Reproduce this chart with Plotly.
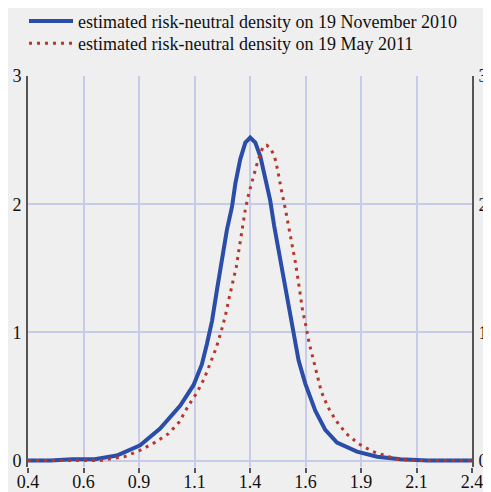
import plotly.graph_objects as go

# Data
nov_x = [0.40, 0.50, 0.60, 0.70, 0.80, 0.905, 0.995, 1.086, 1.146, 1.183, 1.206, 1.229, 1.251,
         1.274, 1.296, 1.319, 1.334, 1.356, 1.379, 1.401, 1.424, 1.447, 1.469, 1.491, 1.509,
         1.537, 1.559, 1.582, 1.596, 1.619, 1.649, 1.694, 1.739, 1.792, 1.882, 1.973, 2.078,
         2.20, 2.30, 2.40]
nov_y = [0.0, 0.0, 0.01, 0.01, 0.04, 0.12, 0.25, 0.43, 0.59, 0.75, 0.91, 1.09, 1.33,
         1.56, 1.80, 1.98, 2.16, 2.35, 2.48, 2.52, 2.48, 2.37, 2.21, 2.03, 1.83,
         1.56, 1.38, 1.14, 1.01, 0.78, 0.60, 0.39, 0.24, 0.14, 0.07, 0.03, 0.01,
         0.0, 0.0, 0.0]

may_x = [0.40, 0.50, 0.60, 0.70, 0.725, 0.833, 0.905, 0.97, 1.033, 1.081, 1.123, 1.161, 1.194,
         1.221, 1.248, 1.269, 1.289, 1.305, 1.322, 1.338, 1.349, 1.362, 1.379, 1.394, 1.413,
         1.434, 1.459, 1.475, 1.491, 1.509, 1.518, 1.526, 1.533, 1.539, 1.547, 1.554, 1.562,
         1.568, 1.576, 1.582, 1.603, 1.615, 1.627, 1.637, 1.652, 1.666, 1.685, 1.703, 1.721,
         1.75, 1.788, 1.834, 1.89, 1.954, 2.025, 2.062, 2.15, 2.25, 2.40]
may_y = [0.0, 0.0, 0.0, 0.0, 0.0, 0.03, 0.08, 0.14, 0.21, 0.30, 0.43, 0.53, 0.64,
         0.76, 0.88, 1.00, 1.13, 1.26, 1.38, 1.51, 1.63, 1.77, 1.96, 2.08, 2.21,
         2.33, 2.45, 2.46, 2.44, 2.38, 2.32, 2.26, 2.19, 2.13, 2.07, 2.00, 1.94,
         1.88, 1.81, 1.75, 1.56, 1.43, 1.30, 1.17, 1.05, 0.92, 0.79, 0.67, 0.54,
         0.42, 0.31, 0.21, 0.13, 0.07, 0.03, 0.01, 0.0, 0.0, 0.0]

x_tickvals = [0.4, 0.65, 0.9, 1.15, 1.4, 1.65, 1.9, 2.15, 2.4]
x_ticktext = ["0.4", "0.6", "0.9", "1.1", "1.4", "1.6", "1.9", "2.1", "2.4"]
y_tickvals = [0, 1, 2, 3]
y_ticktext = ["0", "1", "2", "3"]

names = ["estimated risk-neutral density on 19 November 2010",
         "estimated risk-neutral density on 19 May 2011"]

BG = "#efefef"
GRID = "#c6cbe9"
AXIS = "#555555"
TXT = "#111111"
FONT = "Liberation Serif"

fig = go.Figure()
fig.add_trace(go.Scatter(x=nov_x, y=nov_y, mode="lines", name=names[0], legend="legend",
                         line=dict(color="#2a4da8", width=4)))
fig.add_trace(go.Scatter(x=may_x, y=may_y, mode="lines", name=names[1], legend="legend2",
                         line=dict(color="#b5382c", width=3, dash="3px,5px")))
# invisible trace carrying the mirrored right axis
fig.add_trace(go.Scatter(x=[0.4], y=[0], xaxis="x", yaxis="y2", showlegend=False,
                         mode="markers", marker=dict(opacity=0, color=TXT), hoverinfo="skip"))

yr = [-0.05, 3.0]
leg_common = dict(xanchor="left", yanchor="top", bgcolor="rgba(0,0,0,0)", itemwidth=44,
                  font=dict(family=FONT, size=18, color=TXT))
fig.update_layout(
    width=483, height=484,
    paper_bgcolor=BG, plot_bgcolor=BG,
    margin=dict(l=20, r=19, t=68, b=25, autoexpand=False),
    font=dict(family=FONT, size=18, color=TXT),
    showlegend=True,
    legend=dict(x=-0.009, y=1.187, **leg_common),
    legend2=dict(x=-0.009, y=1.130, **leg_common),
    xaxis=dict(range=[0.4, 2.4], tickvals=x_tickvals, ticktext=x_ticktext,
               showgrid=True, gridcolor=GRID, gridwidth=1.5, zeroline=False,
               ticks="", showline=False, ticklabelstandoff=2,
               tickfont=dict(family=FONT, size=18, color=TXT),
               minor=dict(ticks="outside", ticklen=5, tickwidth=1.5, tickcolor=AXIS,
                          tickmode="array", tickvals=x_tickvals, showgrid=False)),
    yaxis=dict(range=yr, tickvals=y_tickvals, ticktext=y_ticktext,
               showgrid=True, gridcolor=GRID, gridwidth=1.5, zeroline=False,
               ticks="", showline=True, linecolor=AXIS, linewidth=2,
               ticklabelstandoff=1, tickfont=dict(family=FONT, size=18, color=TXT)),
    yaxis2=dict(range=yr, tickvals=y_tickvals, ticktext=y_ticktext, overlaying="y",
                anchor="x", side="right", showgrid=False, zeroline=False, ticks="",
                showline=True, linecolor=AXIS, linewidth=2, color=TXT,
                ticklabelstandoff=1, tickfont=dict(family=FONT, size=18, color=TXT)),
)

fig.write_html("out.html")
